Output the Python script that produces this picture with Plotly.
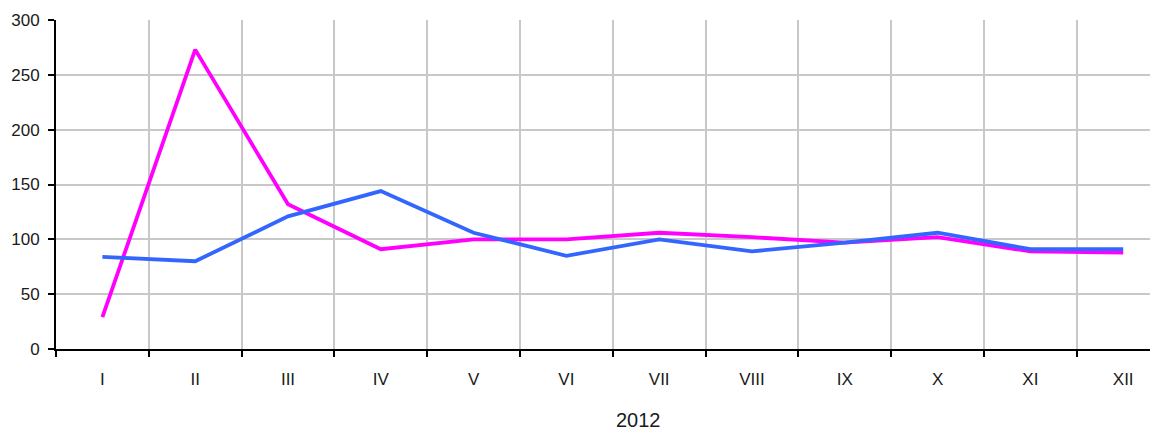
import plotly.graph_objects as go

months = ["I", "II", "III", "IV", "V", "VI", "VII", "VIII", "IX", "X", "XI", "XII"]
series_magenta = [29, 273, 132, 91, 100, 100, 106, 102, 97, 102, 89, 88]
series_blue = [84, 80, 121, 144, 106, 85, 100, 89, 97, 106, 91, 91]
y_ticks = [0, 50, 100, 150, 200, 250, 300]
x_title = "2012"

# page body has an 8px default margin; figure is sized/offset to compensate
fig = go.Figure()
fig.add_trace(go.Scatter(x=months, y=series_magenta, mode="lines",
                         line=dict(color="#ff00ff", width=3.8), showlegend=False))
fig.add_trace(go.Scatter(x=months, y=series_blue, mode="lines",
                         line=dict(color="#3366ff", width=3.8), showlegend=False))

fam = "Liberation Sans, Arial, sans-serif"
xfont = dict(family=fam, size=17, color="#1a1a1a")
yfont = dict(family=fam, size=17, color="#1a1a1a")
tfont = dict(family=fam, size=20, color="#1a1a1a")
W, H = 1150, 423
L, T, B = 48, 12, 82
fig.update_layout(
    width=W, height=H,
    margin=dict(l=L, r=0, t=T, b=B),
    paper_bgcolor="white", plot_bgcolor="white",
    font=xfont,
    xaxis=dict(type="category", tickson="boundaries", range=[-0.5, 11.375],
               showgrid=True, gridcolor="#c8c8c8", gridwidth=2,
               showline=True, linecolor="black", linewidth=2,
               ticks="outside", ticklen=6, tickcolor="black", tickwidth=2,
               zeroline=False, tickfont=xfont, automargin=False,
               ticklabelstandoff=14),
    yaxis=dict(range=[0, 300], tickvals=y_ticks,
               showgrid=True, gridcolor="#c8c8c8", gridwidth=2,
               showline=True, linecolor="black", linewidth=2,
               ticks="outside", ticklen=6, tickcolor="black", tickwidth=2,
               zeroline=False, tickfont=yfont, automargin=False,
               ticklabelstandoff=5),
    annotations=[dict(text=x_title,
                      x=(630 - L) / (W - L), xref="paper",
                      y=-(412 - (H - B)) / (H - B - T), yref="paper",
                      xanchor="center", yanchor="middle",
                      showarrow=False, font=tfont)],
)
fig.write_html("out.html")
